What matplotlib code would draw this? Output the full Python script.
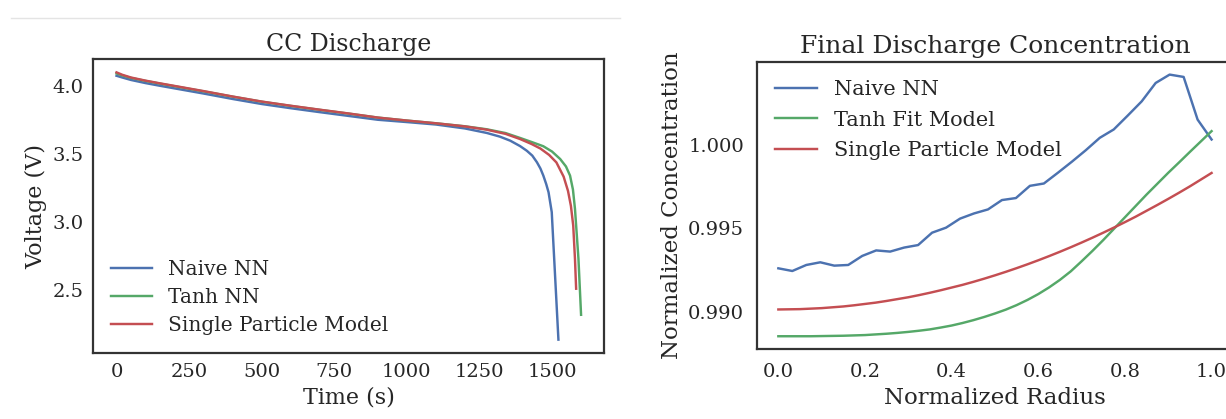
import matplotlib
matplotlib.use("Agg")
import matplotlib.pyplot as plt
from matplotlib.lines import Line2D
from matplotlib.ticker import FormatStrFormatter

# CC discharge curves: time (s) and terminal voltage (V)
naive_t = [0, 20, 50, 100, 150, 200, 300, 400, 500, 600, 700, 800, 900, 1000, 1100, 1200,
           1275, 1320, 1356, 1390, 1413, 1432, 1448, 1460, 1470, 1480, 1488, 1499, 1522]
naive_v = [4.078, 4.065, 4.047, 4.024, 4.004, 3.985, 3.947, 3.907, 3.870, 3.839, 3.810, 3.782,
           3.754, 3.737, 3.719, 3.690, 3.657, 3.630, 3.600, 3.560, 3.526, 3.490, 3.441, 3.395,
           3.343, 3.280, 3.220, 3.074, 2.135]

tanh_t = [0, 20, 50, 100, 150, 200, 300, 400, 500, 600, 700, 800, 900, 1000, 1100, 1200,
          1275, 1340, 1390, 1430, 1470, 1500, 1528, 1548, 1562, 1572, 1579, 1591, 1600]
tanh_v = [4.095, 4.080, 4.062, 4.040, 4.020, 4.001, 3.963, 3.924, 3.887, 3.856, 3.827, 3.799,
          3.770, 3.748, 3.728, 3.706, 3.684, 3.656, 3.620, 3.590, 3.559, 3.520, 3.465, 3.410,
          3.343, 3.240, 3.098, 2.730, 2.318]

spm_t = [0, 20, 50, 100, 150, 200, 300, 400, 500, 600, 700, 800, 900, 1000, 1100, 1200,
         1275, 1340, 1390, 1430, 1460, 1490, 1515, 1540, 1555, 1565, 1573, 1579, 1583]
spm_v = [4.103, 4.085, 4.065, 4.042, 4.022, 4.003, 3.965, 3.925, 3.888, 3.857, 3.828, 3.800,
         3.770, 3.748, 3.728, 3.705, 3.681, 3.650, 3.612, 3.575, 3.542, 3.495, 3.440, 3.335,
         3.230, 3.120, 2.975, 2.730, 2.510]

# final concentration profiles over the particle radius
naive_r = [i / 31 for i in range(32)]
naive_c = [0.99260, 0.99244, 0.99280, 0.99296, 0.99276, 0.99280, 0.99334, 0.99367,
           0.99360, 0.99384, 0.99399, 0.99473, 0.99503, 0.99557, 0.99588, 0.99612,
           0.99668, 0.99680, 0.99753, 0.99767, 0.99831, 0.99897, 0.99966, 1.00040,
           1.00090, 1.00173, 1.00258, 1.00368, 1.00418, 1.00404, 1.00149, 1.00030]

fit_r = [i / 40 for i in range(41)]
tanh_fit_c = [0.98854, 0.98854, 0.98854, 0.98854, 0.98855, 0.98856, 0.98857, 0.98859,
              0.98861, 0.98865, 0.98869, 0.98874, 0.98880, 0.98887, 0.98895, 0.98906,
              0.98918, 0.98933, 0.98950, 0.98969, 0.98990, 0.99013, 0.99040, 0.99071,
              0.99106, 0.99146, 0.99191, 0.99242, 0.99302, 0.99364, 0.99429, 0.99497,
              0.99565, 0.99633, 0.99701, 0.99766, 0.99831, 0.99893, 0.99956, 1.00018,
              1.00080]
spm_c = [0.99014, 0.99015, 0.99016, 0.99019, 0.99022, 0.99027, 0.99032, 0.99039,
         0.99047, 0.99055, 0.99065, 0.99076, 0.99087, 0.99100, 0.99114, 0.99129,
         0.99145, 0.99161, 0.99179, 0.99198, 0.99218, 0.99239, 0.99261, 0.99284,
         0.99308, 0.99333, 0.99359, 0.99386, 0.99414, 0.99443, 0.99473, 0.99504,
         0.99536, 0.99569, 0.99604, 0.99639, 0.99675, 0.99712, 0.99750, 0.99790,
         0.99830]

BLUE, GREEN, RED = "#4C72B0", "#55A868", "#C44E52"

plt.rcParams.update({
    "font.family": "DejaVu Serif",
    "text.color": ".15",
    "axes.labelcolor": ".15",
    "xtick.color": ".15",
    "ytick.color": ".15",
    "axes.edgecolor": ".2",
    "axes.linewidth": 1.6,
    "xtick.major.size": 0,
    "ytick.major.size": 0,
    "xtick.labelsize": 14,
    "ytick.labelsize": 14,
    "lines.linewidth": 1.75,
})

fig = plt.figure(figsize=(12.26, 4.19), dpi=100)
fig.add_artist(Line2D([0.009, 0.506], [0.958, 0.958], color="#e4e4e4", lw=1.0))

ax1 = fig.add_axes([0.0761, 0.1575, 0.4168, 0.7017])
ax1.plot(naive_t, naive_v, color=BLUE, label="Naive NN")
ax1.plot(tanh_t, tanh_v, color=GREEN, label="Tanh NN")
ax1.plot(spm_t, spm_v, color=RED, label="Single Particle Model")
ax1.set_xticks([0, 250, 500, 750, 1000, 1250, 1500])
ax1.set_yticks([2.5, 3.0, 3.5, 4.0])
ax1.tick_params(axis="x", pad=7.5)
ax1.tick_params(axis="y", pad=7)
ax1.set_xlabel("Time (s)", fontsize=16)
ax1.set_ylabel("Voltage (V)", fontsize=16)
ax1.set_title("CC Discharge", fontsize=17)
ax1.legend(loc="lower left", frameon=False, fontsize=14.5, labelspacing=0.45)

ax2 = fig.add_axes([0.6172, 0.1663, 0.3887, 0.6869])
ax2.plot(naive_r, naive_c, color=BLUE, label="Naive NN")
ax2.plot(fit_r, tanh_fit_c, color=GREEN, label="Tanh Fit Model")
ax2.plot(fit_r, spm_c, color=RED, label="Single Particle Model")
ax2.set_xticks([0.0, 0.2, 0.4, 0.6, 0.8, 1.0])
ax2.set_yticks([0.990, 0.995, 1.000])
ax2.yaxis.set_major_formatter(FormatStrFormatter("%.3f"))
ax2.xaxis.set_major_formatter(FormatStrFormatter("%.1f"))
ax2.tick_params(axis="x", pad=10)
ax2.tick_params(axis="y", pad=9)
ax2.set_xlabel("Normalized Radius", fontsize=16.5)
ax2.set_ylabel("Normalized Concentration", fontsize=16.5)
ax2.set_title("Final Discharge Concentration", fontsize=18)
ax2.legend(loc="upper left", frameon=False, fontsize=15, labelspacing=0.55)

fig.savefig("out.png", dpi=100)
plt.close(fig)
